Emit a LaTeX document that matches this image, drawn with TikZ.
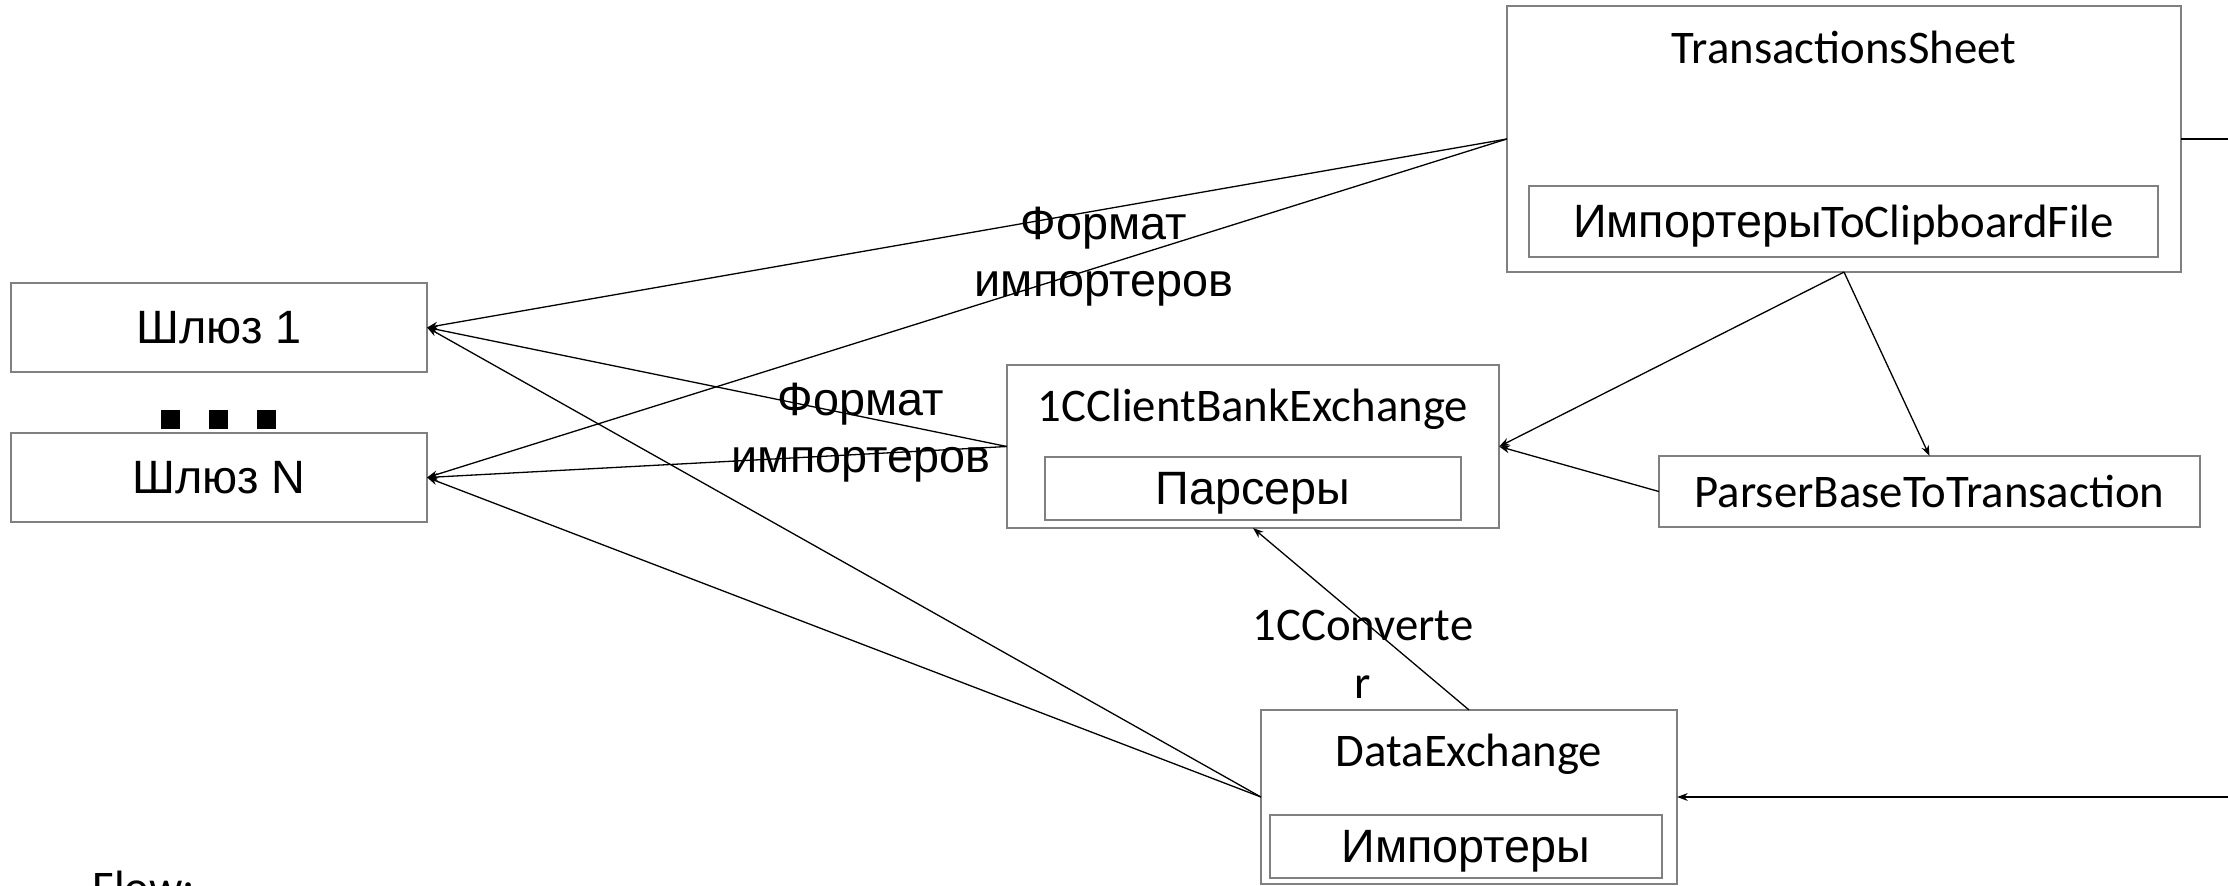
\documentclass[tikz,border=0pt]{standalone}
\usepackage{fontspec}
\setmainfont{Carlito}
\newfontfamily\arialf{Liberation Sans}
\usetikzlibrary{arrows.meta}

\begin{document}
\begin{tikzpicture}[x=0.01cm, y=-0.01cm,
  box/.style={draw={rgb,255:red,128;green,128;blue,128}, line width=0.55pt, inner sep=0pt, outer sep=0pt, text depth=0pt, font=\fontsize{13.3}{16}\selectfont},
  ttl/.style={inner sep=0pt, text depth=0pt, font=\fontsize{13.3}{16}\selectfont},
  lbl/.style={inner sep=0pt, align=center, font=\fontsize{13.3}{16.2}\selectfont},
  conn/.style={line width=0.37pt, -{Stealth[length=3pt,width=2.2pt]}}]
\useasboundingbox (0,0) rectangle (2228,885);
\clip (0,0) rectangle (2228,885);
\node[box, minimum width=4.16cm, minimum height=0.89cm] (gw1) at (219,327.5) {\arialf Шлюз 1};
\node[box, minimum width=4.16cm, minimum height=0.89cm] (gwN) at (219,477.5) {\arialf Шлюз N};
\foreach \x in {170.5,218.5,266.5}
  \fill (\x-9.5,410) rectangle (\x+9.5,429);
\node[box, minimum width=6.74cm, minimum height=2.66cm] (ts) at (1844,139) {};
\node[ttl] (tstitle) at (1844,47) {TransactionsSheet};
\node[box, minimum width=6.29cm, minimum height=0.71cm] (tsimp) at (1843.5,221.5) {{\arialf Импортеры}ToClipboardFile};
\node[box, minimum width=4.92cm, minimum height=1.63cm] (cbe) at (1253,446.5) {};
\node[ttl] (cbetitle) at (1253,405) {1CClientBankExchange};
\node[box, minimum width=4.16cm, minimum height=0.63cm] (pars) at (1253,488.5) {\arialf Парсеры};
\node[box, minimum width=5.41cm, minimum height=0.71cm] (pbt) at (1929.5,491.5) {ParserBaseToTransaction};
\node[box, minimum width=4.16cm, minimum height=1.74cm] (dx) at (1469,797) {};
\node[ttl] (dxtitle) at (1469,750) {DataExchange};
\node[box, minimum width=3.92cm, minimum height=0.63cm] (dximp) at (1466,846.5) {\arialf Импортеры};
\node[lbl, font=\arialf\fontsize{13.3}{16.2}\selectfont] (fmt1) at (1104,256.5) {Формат\\импортеров};
\node[lbl, font=\arialf\fontsize{13.3}{16.2}\selectfont] (fmt2) at (861,433) {Формат\\импортеров};
\node[lbl, font=\fontsize{13.3}{16.5}\selectfont] (conv) at (1363,654) {1CConverte\\r};
\node[ttl, anchor=base west] (flow) at (92,903) {Flow:};
\coordinate (tsout) at (2228,139);
\coordinate (dxin) at (2228,797);
\draw[conn] (ts.west) -- (gw1.east);
\draw[conn] (ts.west) -- (gwN.east);
\draw[conn] (cbe.west) -- (gw1.east);
\draw[conn] (cbe.west) -- (gwN.east);
\draw[conn] (dx.west) -- (gw1.east);
\draw[conn] (dx.west) -- (gwN.east);
\draw[conn] (ts.south) -- (cbe.east);
\draw[conn] (ts.south) -- (pbt.north);
\draw[conn] (pbt.west) -- (cbe.east);
\draw[conn] (dx.north) -- (cbe.south);
\draw[line width=0.4pt] (ts.east) -- (tsout);
\draw[conn, line width=0.5pt] (dxin) -- (dx.east);
\end{tikzpicture}
\end{document}
